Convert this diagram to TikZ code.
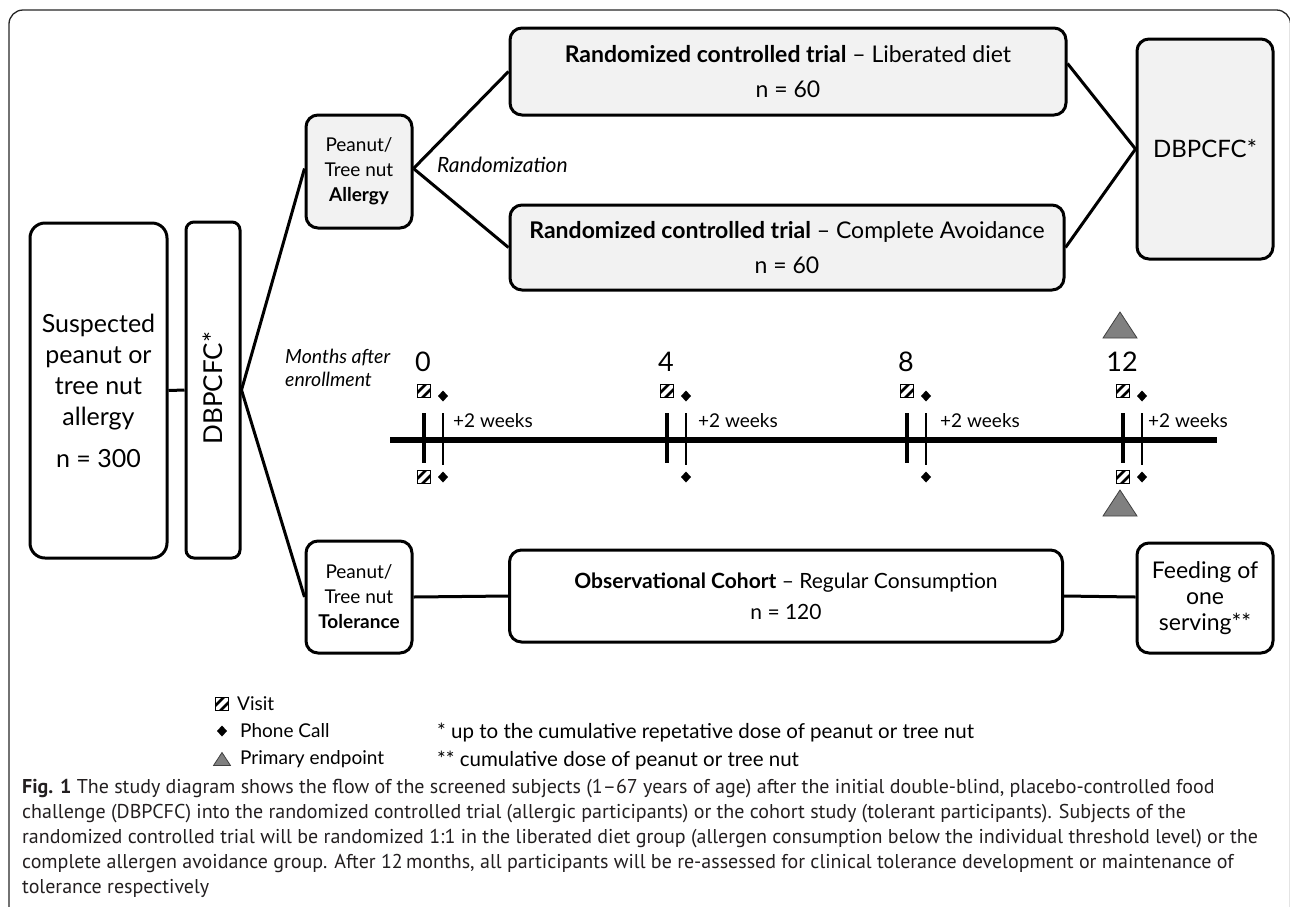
\documentclass[tikz,border=0pt]{standalone}
\usepackage{fontspec}
\setmainfont{Lato}
\newfontfamily\capfont{PT Sans}
\usetikzlibrary{calc}
\definecolor{boxgray}{HTML}{F2F2F2}
\definecolor{trigray}{HTML}{808080}
\definecolor{capcol}{HTML}{231F20}
\begin{document}
\begin{tikzpicture}[x=1pt,y=-1pt,
  box/.style={draw, line width=3pt, rounded corners=12pt, inner sep=0pt, align=center, fill=white},
  graybox/.style={box, fill=boxgray},
  conn/.style={line width=3pt},
  captxt/.style={anchor=base west, inner sep=0pt, text=capcol, font=\capfont\fontsize{20}{24}\selectfont},
  legtxt/.style={anchor=west, inner sep=0pt, font=\fontsize{19}{23}\selectfont},
  fntxt/.style={anchor=west, inner sep=0pt, font=\fontsize{20.5}{23}\selectfont},
  visit/.pic={
    \begin{scope}
      \clip (-6.5,-6.5) rectangle (6.5,6.5);
      \fill[white] (-6.5,-6.5) rectangle (6.5,6.5);
      \draw[line width=2.6pt] (-12,7) -- (7,-12);
      \draw[line width=2.6pt] (-7,12) -- (12,-7);
    \end{scope}
    \draw[line width=1.6pt] (-6.5,-6.5) rectangle (6.5,6.5);
  },
  phone/.pic={\fill (0,-5.5) -- (5,0) -- (0,5.5) -- (-5,0) -- cycle;},
  endpt/.pic={\filldraw[fill=trigray, draw=black!75, line width=0.8pt] (-17,13) -- (17,13) -- (0,-13) -- cycle;}
]
\useasboundingbox (0,0) rectangle (1290,906);
% outer frame
\draw[line width=1.3pt, black!85, rounded corners=14pt] (9,930) -- (9,10) -- (1290.5,10) -- (1290.5,930);

% boxes
\node[box, rounded corners=15pt, minimum width=137pt, minimum height=335pt,
      font=\fontsize{25}{31}\selectfont] (sus) at (98.5,390.5)
  {Suspected\\peanut or\\tree nut\\allergy\\[11pt]n = 300};
\node[box, rounded corners=8pt, minimum width=54pt, minimum height=336pt] (dbv) at (213,390) {};
\node[rotate=90, inner sep=0pt, font=\fontsize{26}{30}\selectfont] (dbvt) at (213,388) {DBPCFC*};

\node[graybox, minimum width=106pt, minimum height=113pt, font=\fontsize{19}{25}\selectfont] (al) at (359,171.5)
  {Peanut/\\Tree nut\\\textbf{Allergy}};
\node[box, minimum width=106pt, minimum height=112pt, font=\fontsize{19}{25}\selectfont] (tol) at (359,597)
  {Peanut/\\Tree nut\\\textbf{Tolerance}};

\node[graybox, minimum width=556pt, minimum height=87pt, font=\fontsize{23}{26}\selectfont] (rct1) at (788,71.5)
  {\textbf{Randomized controlled trial} – Liberated diet\\[9pt]n = 60};
\node[graybox, minimum width=554pt, minimum height=85pt, font=\fontsize{23}{26}\selectfont] (rct2) at (787,247.5)
  {\textbf{Randomized controlled trial} – Complete Avoidance\\[9pt]n = 60};
\node[graybox, minimum width=136pt, minimum height=220pt, font=\fontsize{24}{28}\selectfont] (dbr) at (1205,149)
  {DBPCFC*};

\node[box, minimum width=553pt, minimum height=92pt, font=\fontsize{21}{25}\selectfont] (obs) at (786,596)
  {\textbf{Observational Cohort} – Regular Consumption\\[6pt]n = 120};
\node[box, minimum width=136pt, minimum height=110pt, font=\fontsize{23}{26}\selectfont] (feed) at (1205,598)
  {Feeding of\\one\\serving**};

% connectors
\draw[conn] (sus.east) -- (dbv.west);
\draw[conn] (dbv.east) -- ([yshift=3pt]al.west);
\draw[conn] (dbv.east) -- (tol.west);
\draw[conn] ([yshift=3pt]al.east) -- (rct1.west);
\draw[conn] ([yshift=3pt]al.east) -- (rct2.west);
\draw[conn] ([yshift=8pt]rct1.east) -- (dbr.west);
\draw[conn] (rct2.east) -- (dbr.west);
\draw[conn] (tol.east) -- (obs.west);
\draw[conn] (obs.east) -- ([yshift=1pt]feed.west);

% labels
\node[anchor=west, inner sep=0pt, font=\itshape\fontsize{21}{25}\selectfont] (rnd) at (437,165) {Randomization};
\node[anchor=north west, inner sep=0pt, align=left, font=\itshape\fontsize{19.5}{23}\selectfont] (months) at (285,349) {Months after\\enrollment};

% timeline
\coordinate (t0) at (390,440);
\coordinate (t1) at (1217,440);
\draw[line width=6pt] (t0) -- (t1);
\foreach \X/\lab/\off in {424/0/29, 667/4/31, 907/8/33, 1123/12/25}{
  \draw[line width=3.5pt] (\X,413) -- (\X,463);
  \draw[line width=2pt] (\X+19,413) -- (\X+19,465);
  \node[inner sep=0pt, font=\fontsize{27}{30}\selectfont] at (\X-1,362) {\lab};
  \pic at (\X,391) {visit};
  \pic at (\X+19,396) {phone};
  \pic at (\X+19,477) {phone};
  \node[anchor=west, inner sep=0pt, font=\fontsize{19}{23}\selectfont] at (\X+\off,421) {+2 weeks};
}
\pic at (424,477) {visit};
\pic at (1123,477) {visit};
\pic at (1120,325) {endpt};
\pic at (1120,503) {endpt};

% legend
\pic at (222,704) {visit};
\node[legtxt] (lv) at (237,704) {Visit};
\pic at (222,731) {phone};
\node[legtxt] (lp) at (240,731) {Phone Call};
\pic[scale=0.5] at (222,759) {endpt};
\node[legtxt] (le) at (240,759) {Primary endpoint};
\node[fntxt] (fn1) at (437,733) {* up to the cumulative repetative dose of peanut or tree nut};
\node[fntxt] (fn2) at (437,761) {** cumulative dose of peanut or tree nut};

% caption
\node[captxt] (c1) at (22,793) {\textbf{Fig. 1} The study diagram shows the flow of the screened subjects (1–67 years of age) after the initial double-blind, placebo-controlled food};
\node[captxt] (c2) at (22,818) {challenge (DBPCFC) into the randomized controlled trial (allergic participants) or the cohort study (tolerant participants). Subjects of the};
\node[captxt] (c3) at (22,843) {randomized controlled trial will be randomized 1:1 in the liberated diet group (allergen consumption below the individual threshold level) or the};
\node[captxt] (c4) at (22,868) {complete allergen avoidance group. After 12\,months, all participants will be re-assessed for clinical tolerance development or maintenance of};
\node[captxt] (c5) at (22,893) {tolerance respectively};
\end{tikzpicture}
\end{document}
